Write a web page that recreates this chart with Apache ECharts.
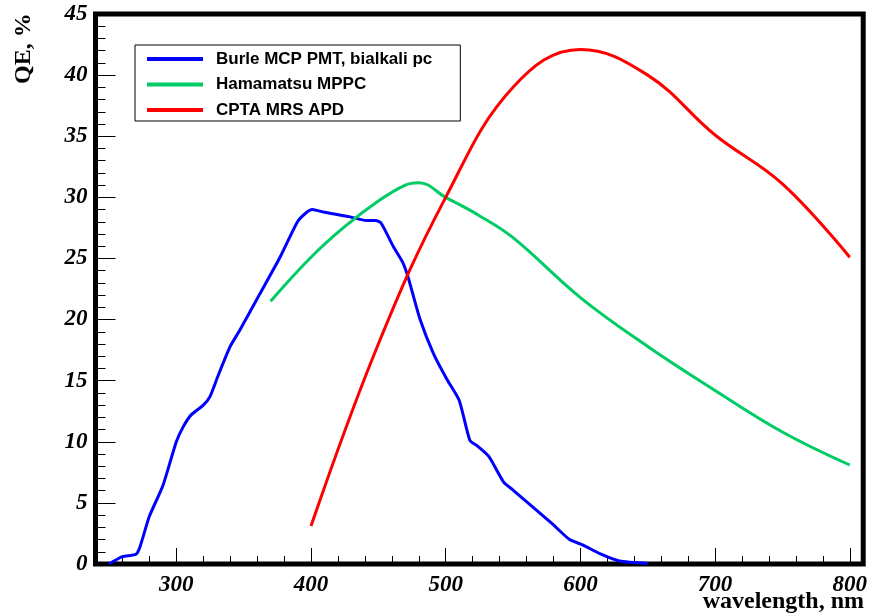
<!DOCTYPE html>
<html>
<head>
<meta charset="utf-8">
<script src="https://cdn.jsdelivr.net/npm/echarts@6/dist/echarts.min.js"></script>
<style>
  html, body { margin: 0; padding: 0; background: #fff; }
  #main { width: 870px; height: 615px; }
</style>
</head>
<body>
<div id="main"></div>
<script>
// wavelength (nm) / QE (%) pairs
const burleMcp = [
  [250, 0], [260, 0.6], [270, 0.8], [273, 1.4], [280, 3.9], [290, 6.4], [300, 10.0],
  [305, 11.2], [311, 12.2], [320, 13.0], [325, 13.7], [331, 15.4], [340, 17.8],
  [347, 19.1], [362, 22.1], [377, 25.1], [390, 28.0], [396, 28.7], [401, 29.0],
  [409, 28.8], [429, 28.4], [441, 28.1], [448, 28.1], [452, 27.9], [461, 26.0],
  [468, 24.7], [472, 23.5], [481, 20.0], [491, 17.2], [501, 15.1], [510, 13.4],
  [518, 10.1], [523, 9.7], [532, 8.8], [543, 6.7], [550, 6.05], [579, 3.3],
  [592, 2.0], [602, 1.55], [614, 0.87], [629, 0.25], [650, 0.05]
];
const hamamatsu = [
  [370, 21.5], [400, 25.1], [425, 27.6], [450, 29.7], [470, 31.0], [480, 31.2],
  [500, 30.0], [525, 28.5], [550, 26.7], [600, 21.8], [650, 17.8], [700, 14.2],
  [750, 10.8], [800, 8.1]
];
const cptaApd = [
  [400, 3.1], [450, 18.0], [500, 30.0], [550, 39.0], [600, 42.1], [650, 40.0],
  [700, 35.1], [750, 31.1], [800, 25.1]
];
const seriesNames = ["Burle MCP PMT, bialkali pc", "Hamamatsu MPPC", "CPTA MRS APD"];
const xMajorTicks = [300, 400, 500, 600, 700, 800];

const chart = echarts.init(document.getElementById("main"));

const tickFont = {
  fontFamily: "Liberation Serif",
  fontStyle: "italic",
  fontWeight: "bold",
  fontSize: 23,
  color: "#000",
};
const tickLine = { color: "#000", width: 1 };

chart.setOption({
  animation: false,
  grid: {
    left: 95.5,
    right: 4.5,
    top: 14,
    bottom: 51,
    show: true,
    borderColor: "#000",
    borderWidth: 5,
    backgroundColor: "#fff",
  },
  legend: {
    orient: "vertical",
    left: 135,
    top: 45,
    padding: [4, 28, 1, 12],
    itemGap: 5.5,
    itemWidth: 56,
    itemHeight: 4,
    icon: "rect",
    borderColor: "#000",
    borderWidth: 1,
    textStyle: {
      fontFamily: "Liberation Sans",
      fontWeight: "bold",
      fontSize: 17,
      lineHeight: 20,
      color: "#000",
      padding: [0, 0, 0, 8],
    },
    data: seriesNames,
  },
  xAxis: [
    {
      // minor ticks every 20 nm + labels
      type: "value",
      position: "bottom",
      min: 240,
      max: 810,
      interval: 20,
      axisLine: { show: false },
      splitLine: { show: false },
      axisTick: { inside: true, length: 8, lineStyle: tickLine },
      axisLabel: Object.assign({ customValues: xMajorTicks, margin: 10 }, tickFont),
    },
    {
      // major ticks every 100 nm
      type: "value",
      position: "bottom",
      min: 240,
      max: 810,
      axisLine: { show: false },
      splitLine: { show: false },
      axisLabel: { show: false },
      axisTick: { inside: true, length: 16, customValues: xMajorTicks, lineStyle: tickLine },
    },
  ],
  yAxis: {
    type: "value",
    min: 0,
    max: 45,
    interval: 5,
    axisLine: { show: false },
    splitLine: { show: false },
    axisTick: { inside: true, length: 20, lineStyle: tickLine },
    minorTick: { show: true, splitNumber: 5, length: 10, lineStyle: tickLine },
    axisLabel: Object.assign({ margin: 8 }, tickFont),
  },
  graphic: [
    {
      type: "text",
      x: 12,
      y: 84,
      rotation: Math.PI / 2,
      style: {
        text: "QE, %",
        font: "bold 24px 'Liberation Serif'",
        fill: "#000",
        textAlign: "left",
        textVerticalAlign: "top",
      },
    },
    {
      type: "text",
      right: 6,
      top: 590,
      style: {
        text: "wavelength, nm",
        font: "bold 24px 'Liberation Serif'",
        fill: "#000",
      },
    },
  ],
  series: [
    {
      name: seriesNames[0],
      type: "line",
      data: burleMcp,
      showSymbol: false,
      smooth: 0.2,
      lineStyle: { color: "#0000ff", width: 3 },
      itemStyle: { color: "#0000ff" },
    },
    {
      name: seriesNames[1],
      type: "line",
      data: hamamatsu,
      showSymbol: false,
      smooth: 0.4,
      lineStyle: { color: "#00cc66", width: 3 },
      itemStyle: { color: "#00cc66" },
    },
    {
      name: seriesNames[2],
      type: "line",
      data: cptaApd,
      showSymbol: false,
      smooth: 0.4,
      lineStyle: { color: "#ff0000", width: 3 },
      itemStyle: { color: "#ff0000" },
    },
  ],
});
</script>
</body>
</html>
